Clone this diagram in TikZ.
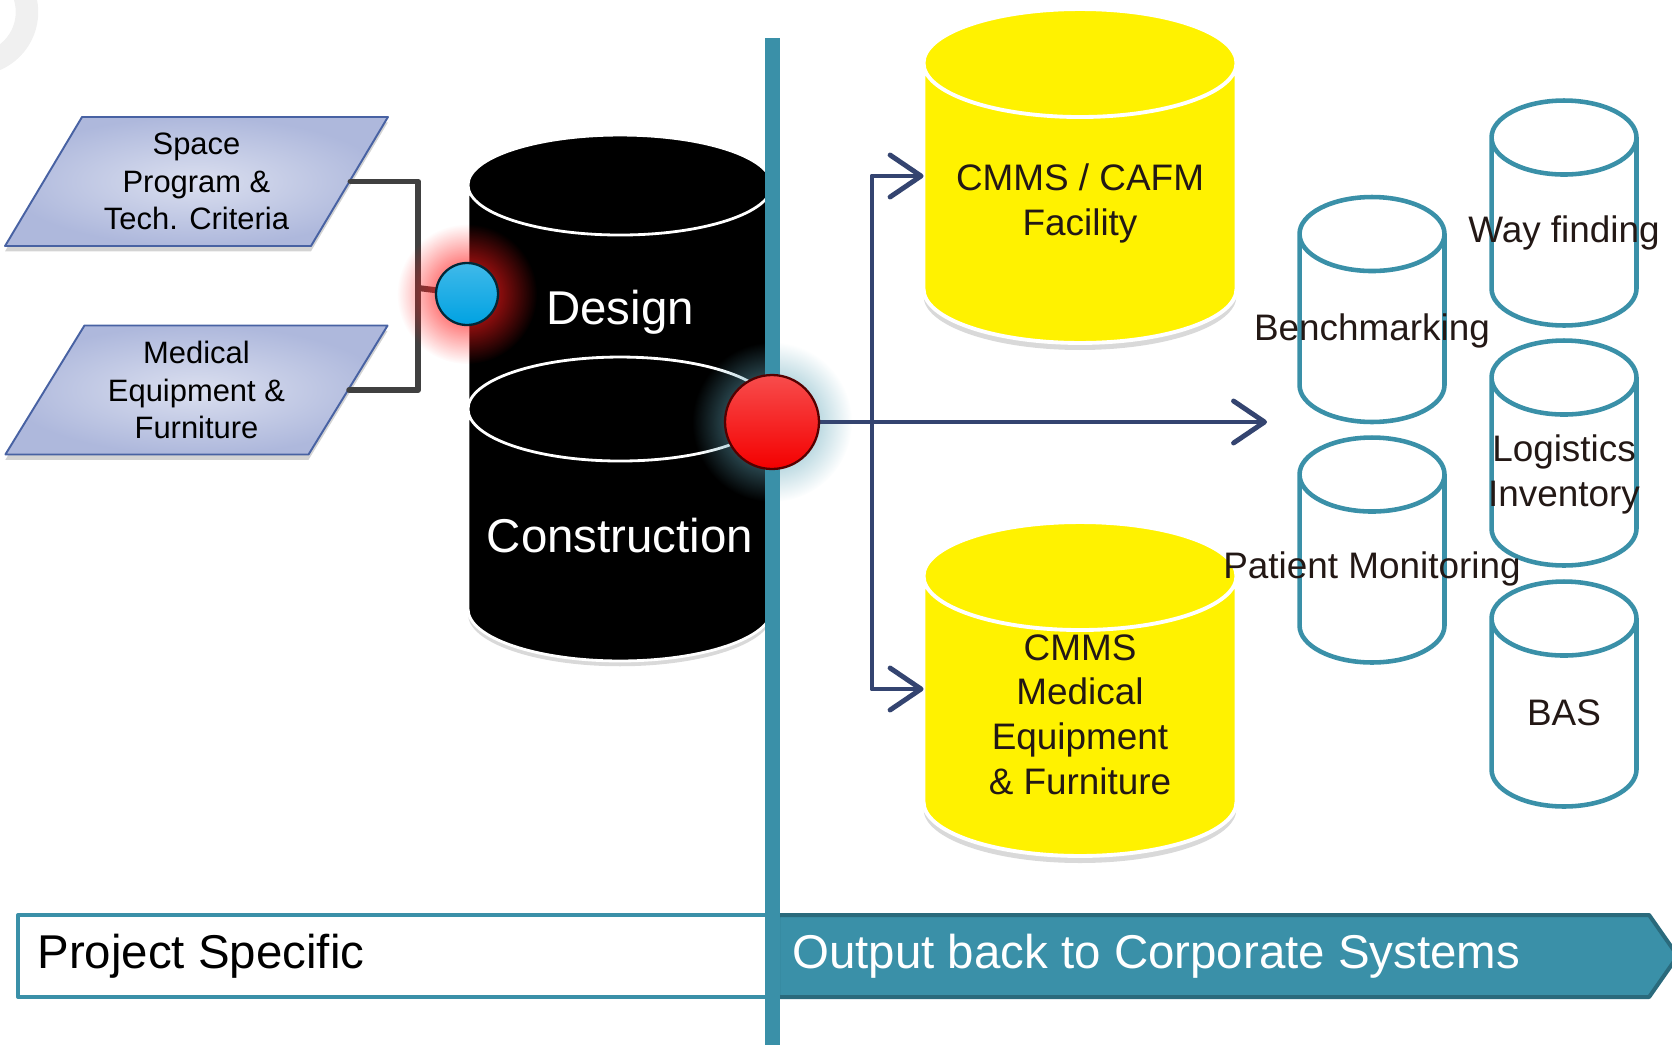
\documentclass[tikz,border=0pt]{standalone}
\usepackage{fontspec}
\setmainfont{Liberation Sans}
\usetikzlibrary{shapes.geometric,shapes.symbols,arrows.meta,shadows,fadings,calc,positioning}

\definecolor{tealline}{HTML}{3A90A8}
\definecolor{tealdark}{HTML}{2A6A7C}
\definecolor{arrowblue}{HTML}{344470}
\definecolor{parafill}{HTML}{AEB8DC}
\definecolor{paraedge}{HTML}{4862A3}
\definecolor{bracketgray}{HTML}{404040}
\definecolor{dotblue}{HTML}{00A2E2}
\definecolor{dotred}{HTML}{F40000}
\definecolor{inktext}{HTML}{231815}
\tikzfading[name=glowfade, inner color=transparent!0, outer color=transparent!100]

% cylinder drawn over a named box node: [style]{node}{ellipse y radius}
\newcommand\drum[3][]{%
  \path[#1] let \p1=(#2.north west), \p2=(#2.south east), \n1={(\x2-\x1)/2} in
    ({\x1},{\y1-#3}) -- ({\x1},{\y2+#3})
      arc[start angle=180, end angle=360, x radius=\n1, y radius=#3]
    -- ({\x2},{\y1-#3})
      arc[start angle=0, end angle=180, x radius=\n1, y radius=#3] -- cycle
    ({\x1},{\y1-#3}) arc[start angle=180, end angle=360, x radius=\n1, y radius=#3];
}

\begin{document}
\begin{tikzpicture}[x=0.02cm, y=-0.02cm, line join=round, line cap=round,
    >={Straight Barb[length=0.62cm,width=0.84cm,round]},
    para/.style={trapezium, trapezium left angle=58.8, trapezium right angle=121.2,
      trapezium stretches=true, minimum width=7.66cm, minimum height=2.58cm,
      draw=paraedge, line width=1.1pt, inner color=parafill!45!white, outer color=parafill,
      drop shadow={opacity=0.35, shadow xshift=0pt, shadow yshift=-3pt},
      align=center, font=\fontsize{17.6}{21.5}\selectfont},
    drumbox/.style={inner sep=0pt, outer sep=0pt},
    bpaint/.style={fill=black, draw=white, line width=1.6pt,
      drop shadow={opacity=0.3, shadow xshift=0pt, shadow yshift=-3pt}},
    ypaint/.style={fill=yellow, draw=white, line width=2.2pt,
      drop shadow={opacity=0.3, shadow xshift=0pt, shadow yshift=-4pt}},
    tpaint/.style={draw=tealline, line width=2.6pt},
    cyltext/.style={font=\fontsize{21}{25.5}\selectfont, text=inktext, align=center, inner sep=0pt},
    darktext/.style={font=\fontsize{27}{32}\selectfont, text=white, inner sep=0pt},
    bartext/.style={font=\fontsize{27}{32}\selectfont, inner sep=0pt, anchor=west},
    bracket/.style={bracketgray, line width=3.4pt},
    flow/.style={arrowblue, line width=2.8pt},
    dot/.style={circle, inner sep=0pt, line width=1.3pt}]
  \def\W{1672} \def\H{1045}
  \useasboundingbox (0,0) rectangle (\W,\H);
  % corner decoration
  \draw[gray!12, line width=0.45cm] (-25,12) ++(-40:52) arc (-40:80:52);

  % inputs
  \node[para] (space) at (196.5,181.5) {Space\\Program \&\\Tech. Criteria};
  \node[para] (medeq) at (196.5,390) {Medical\\Equipment \&\\Furniture};
  \coordinate (junc) at (418,288);
  \draw[bracket] (space.east) -| (junc) |- (medeq.east);

  % project database
  \node[drumbox, minimum width=6.08cm, minimum height=6.9cm] (design) at (620,307.5) {};
  \node[drumbox, minimum width=6.08cm, minimum height=6.08cm] (constr) at (620,509) {};
  \drum[bpaint]{design}{1.0cm}
  \drum[bpaint]{constr}{1.04cm}
  \node[darktext] (designtxt) at ([yshift=-0.09cm]design.center) {Design};
  \node[darktext] (constrtxt) at ([yshift=-0.54cm]constr.center) {Construction};

  \node[dot, minimum size=1.24cm] (bluedot) at (467,294) {};
  \draw[bracket] (junc) -- (bluedot);
  \fill[red!90, path fading=glowfade] (bluedot.center) circle (1.4cm);
  \node[dot, minimum size=1.24cm, draw=black!75!dotblue, top color=dotblue!75!white,
    bottom color=dotblue] at (bluedot) {};

  % bottom bar
  \node[draw=tealline, line width=0.08cm, fill=white, minimum width=15.06cm,
    minimum height=1.64cm, inner sep=0pt] (proj) at (394.5,956) {};
  \node[bartext, text=black] (projtxt) at ([xshift=0.42cm]proj.west) {Project Specific};
  \node[signal, signal to=east, signal pointer angle=110, fill=tealline, draw=tealdark,
    line width=0.08cm, minimum width=18cm, minimum height=1.64cm, inner sep=0pt,
    anchor=west] (outbar) at (776,956) {};
  \node[bartext, text=white] (outtxt) at ([xshift=0.32cm]outbar.west) {Output back to Corporate Systems};

  % corporate systems
  \node[drumbox, minimum width=6.26cm, minimum height=6.68cm] (cafm) at (1080,176) {};
  \node[drumbox, minimum width=6.26cm, minimum height=6.68cm] (cmmsmed) at (1080,689) {};
  \drum[ypaint]{cafm}{1.08cm}
  \drum[ypaint]{cmmsmed}{1.08cm}
  \node[cyltext] (cafmtxt) at ([yshift=-0.55cm]cafm.center) {CMMS / CAFM\\Facility};
  \node[cyltext] (cmmsmedtxt) at ([yshift=-0.51cm]cmmsmed.center) {CMMS\\Medical\\Equipment\\ \& Furniture};

  \foreach \nm/\cx/\cy in {bench/1372/309.5, patient/1372/550, wayfind/1564/213,
      logist/1564/453, bas/1564/694}{
    \node[drumbox, minimum width=2.9cm, minimum height=4.5cm] (\nm) at (\cx,\cy) {};
    \drum[tpaint]{\nm}{0.74cm}
  }
  \node[cyltext] (benchtxt) at ([yshift=-0.42cm]bench.center) {Benchmarking};
  \node[cyltext] (patienttxt) at ([yshift=-0.38cm]patient.center) {Patient Monitoring};
  \node[cyltext] (wayfindtxt) at ([yshift=-0.4cm]wayfind.center) {Way finding};
  \node[cyltext] (logisttxt) at ([yshift=-0.43cm]logist.center) {Logistics\\Inventory};
  \node[cyltext] (bastxt) at ([yshift=-0.38cm]bas.center) {BAS};

  % handover line
  \node[dot, minimum size=1.88cm] (reddot) at (772,422) {};
  \fill[tealline!80, path fading=glowfade] (reddot.center) circle (1.6cm);
  \coordinate (vtop) at (772,38);
  \coordinate (vbot) at (772,\H);
  \draw[tealline, line width=0.3cm, line cap=butt] (vtop) -- (vbot);

  \coordinate (fork) at (872,422);
  \coordinate (outtip) at (1267,422);
  \draw[flow, ->] (reddot) -- (outtip);
  \draw[flow, ->] (fork) |- (cafm);
  \draw[flow, ->] (fork) |- (cmmsmed);
  \node[dot, minimum size=1.88cm, draw=black!65!dotred, top color=dotred!70!white,
    bottom color=dotred] at (reddot) {};
\end{tikzpicture}
\end{document}
